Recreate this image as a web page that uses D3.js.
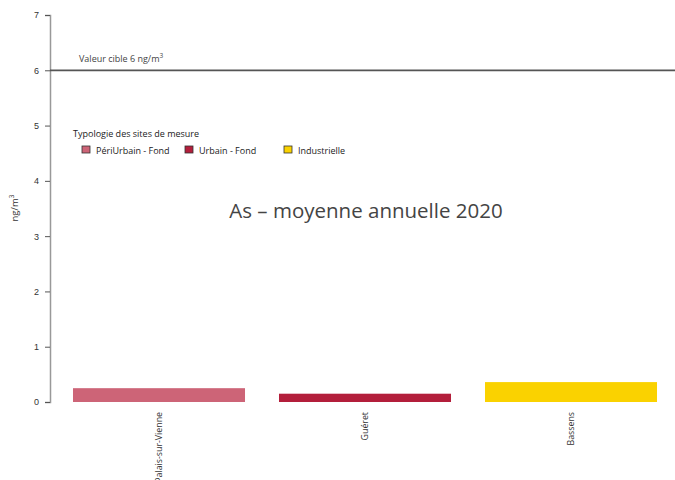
<!DOCTYPE html>
<html>
<head>
<meta charset="utf-8">
<script src="https://cdn.jsdelivr.net/npm/d3@7"></script>
<style>
  body { margin: 0; background: #fff; }
  svg { font-family: "Open Sans", "Noto Sans", sans-serif; }
</style>
</head>
<body>
<div id="chart-area"></div>
<script>
const width = 675;
const height = 480;

// données
const sites = ["Palais-sur-Vienne", "Guéret", "Bassens"];
const values = [0.25, 0.15, 0.36];
const typologies = ["PériUrbain - Fond", "Urbain - Fond", "Industrielle"];
const siteTypologie = ["PériUrbain - Fond", "Urbain - Fond", "Industrielle"];
const yTicks = [0, 1, 2, 3, 4, 5, 6, 7];
const cible = 6;

const color = d3.scaleOrdinal()
    .domain(typologies)
    .range(["#cd6477", "#b31e3b", "#fad200"]);

const svg = d3.select("#chart-area")
    .append("svg")
    .attr("width", width)
    .attr("height", height);

const x = d3.scaleBand()
    .domain(sites)
    .range([56, 674])
    .paddingInner(0.165)
    .paddingOuter(0.0825);

const y = d3.scaleLinear()
    .domain([0, 7])
    .range([402, 15]);

// axe Y
const yAxis = svg.append("g")
    .attr("transform", "translate(50,0)")
    .call(d3.axisLeft(y).tickValues(yTicks).tickSize(5).tickPadding(6).tickFormat(d3.format("d")));
yAxis.select(".domain").attr("stroke", "#999").attr("stroke-width", 1.5);
yAxis.selectAll(".tick line").attr("stroke", "#555");
yAxis.selectAll(".tick text").attr("font-size", 9).attr("fill", "#333");

svg.append("text")
    .attr("transform", "translate(18,208) rotate(-90)")
    .attr("text-anchor", "middle")
    .attr("font-size", 9.5)
    .attr("fill", "#333")
    .html("ng/m<tspan dy='-4' font-size='6.5'>3</tspan>");

// barres
svg.selectAll("rect.bar")
    .data(sites)
    .enter().append("rect")
    .attr("class", "bar")
    .attr("x", d => x(d))
    .attr("width", x.bandwidth())
    .attr("y", (d, i) => y(values[i]))
    .attr("height", (d, i) => y(0) - y(values[i]))
    .attr("fill", (d, i) => color(siteTypologie[i]));

// étiquettes X
svg.selectAll("text.xlab")
    .data(sites)
    .enter().append("text")
    .attr("class", "xlab")
    .attr("transform", d => `translate(${x(d) + x.bandwidth() / 2 + 3},412) rotate(-90)`)
    .attr("text-anchor", "end")
    .attr("font-size", 8.8)
    .attr("fill", "#333")
    .text(d => d);

// valeur cible
svg.append("line")
    .attr("x1", 50).attr("x2", width)
    .attr("y1", y(cible)).attr("y2", y(cible))
    .attr("stroke", "#555")
    .attr("stroke-width", 1.8);

svg.append("text")
    .attr("x", 79)
    .attr("y", y(cible) - 8)
    .attr("font-size", 9)
    .attr("fill", "#444")
    .html("Valeur cible 6 ng/m<tspan dy='-4' font-size='6.5'>3</tspan>");

// titre
svg.append("text")
    .attr("x", 366)
    .attr("y", 218)
    .attr("text-anchor", "middle")
    .attr("font-size", 20.5)
    .attr("fill", "#444")
    .text("As – moyenne annuelle 2020");

// légende
svg.append("text")
    .attr("x", 73)
    .attr("y", 137)
    .attr("font-size", 9)
    .attr("fill", "#222")
    .text("Typologie des sites de mesure");

const legendX = [82, 185, 284];
const leg = svg.selectAll("g.leg")
    .data(typologies)
    .enter().append("g")
    .attr("class", "leg")
    .attr("transform", (d, i) => `translate(${legendX[i]},146)`);
leg.append("rect")
    .attr("width", 8).attr("height", 7)
    .attr("fill", d => color(d))
    .attr("stroke", "#333")
    .attr("stroke-width", 0.8);
leg.append("text")
    .attr("x", 14)
    .attr("y", 7.5)
    .attr("font-size", 9)
    .attr("fill", "#222")
    .text(d => d);
</script>
</body>
</html>
